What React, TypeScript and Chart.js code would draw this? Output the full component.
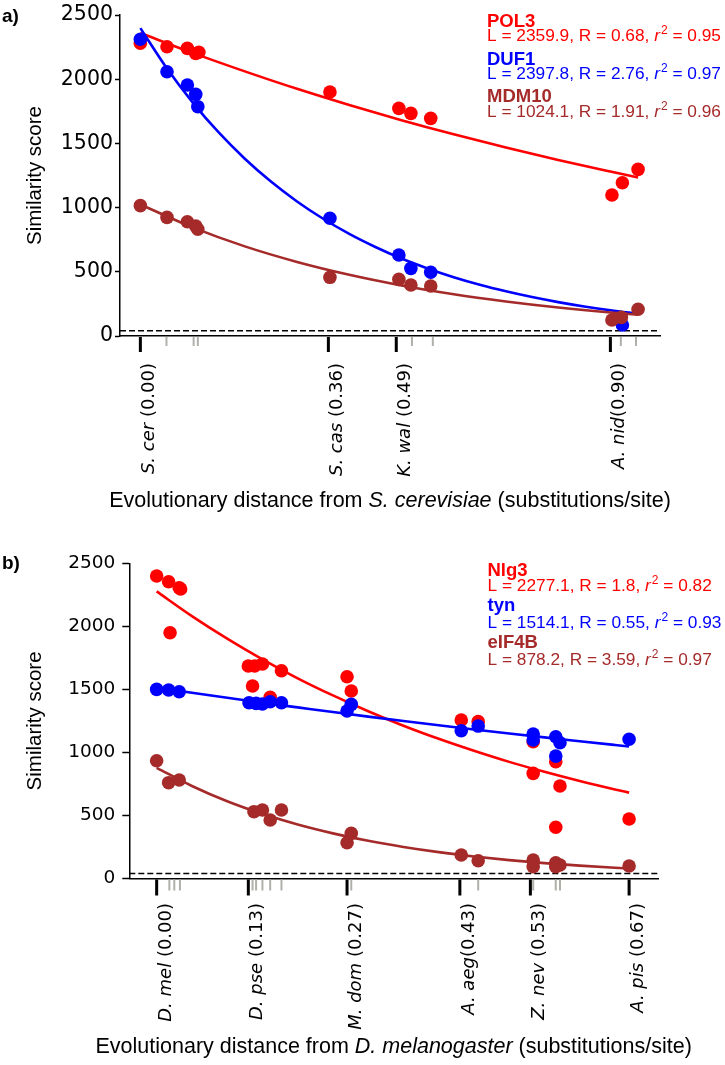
import React, { useEffect, useRef } from 'react';
import { Chart, registerables } from 'chart.js';

Chart.register(...registerables);

const RED = '#ff0000';
const BLUE = '#0000ff';
const BROWN = '#a52a2a';
const DASH_LEVEL = 40;

// ---------- Panel a (S. cerevisiae) ----------
const aGenes = ['POL3', 'DUF1', 'MDM10'];
const aFitL = [2359.9, 2397.8, 1024.1];
const aFitR = [0.68, 2.76, 1.91];
const aFitR2 = [0.95, 0.97, 0.96];
const aSpecies = ['S. cer', 'S. cas', 'K. wal', 'A. nid'];
const aSpeciesDist = [0.0, 0.36, 0.49, 0.9];
const aSpeciesSep = [' ', ' ', ' ', ''];
const aMinorTicks = [0.05, 0.102, 0.11, 0.52, 0.56, 0.92, 0.949];
const aXMin = -0.039;
const aXMax = 0.995;

const aPol3X = [0.0, 0.051, 0.09, 0.106, 0.112, 0.363, 0.495, 0.518, 0.556, 0.903, 0.923, 0.953];
const aPol3Y = [2280, 2253, 2240, 2200, 2210, 1900, 1773, 1734, 1695, 1098, 1194, 1298];
const aDuf1X = [0.0, 0.051, 0.09, 0.106, 0.11, 0.363, 0.495, 0.518, 0.556, 0.923];
const aDuf1Y = [2311, 2058, 1955, 1882, 1786, 917, 631, 527, 496, 86];
const aMdm10X = [0.0, 0.051, 0.09, 0.106, 0.11, 0.363, 0.495, 0.518, 0.556, 0.903, 0.921, 0.953];
const aMdm10Y = [1015, 924, 890, 857, 831, 457, 441, 397, 389, 125, 145, 208];

const aCurveX = [0, 0.1, 0.2, 0.3, 0.4, 0.5, 0.6, 0.7, 0.8, 0.9, 0.953];
const aPol3Fit = [2360, 2205, 2061, 1925, 1799, 1681, 1571, 1468, 1371, 1281, 1235];
const aMdm10Fit = [1024, 846, 698, 577, 477, 394, 325, 269, 222, 183, 166];
const aDuf1CurveX = [0, 0.05, 0.1, 0.15, 0.2, 0.25, 0.3, 0.35, 0.4, 0.45, 0.5, 0.55, 0.6, 0.65, 0.7, 0.75, 0.8, 0.85, 0.9, 0.953];
const aDuf1Fit = [2398, 2089, 1820, 1585, 1381, 1203, 1048, 913, 795, 693, 603, 526, 458, 399, 348, 303, 264, 230, 200, 173];

// ---------- Panel b (D. melanogaster) ----------
const bGenes = ['Nlg3', 'tyn', 'eIF4B'];
const bFitL = [2277.1, 1514.1, 878.2];
const bFitR = [1.8, 0.55, 3.59];
const bFitR2 = [0.82, 0.93, 0.97];
const bSpecies = ['D. mel', 'D. pse', 'M. dom', 'A. aeg', 'Z. nev', 'A. pis'];
const bSpeciesDist = [0.0, 0.13, 0.27, 0.43, 0.53, 0.67];
const bSpeciesSep = [' ', ' ', ' ', '', ' ', ' '];
const bMinorTicks = [0.018, 0.025, 0.033, 0.136, 0.141, 0.15, 0.161, 0.177, 0.276, 0.456, 0.534, 0.566, 0.572];
const bXMin = -0.0388;
const bXMax = 0.711;

const bNlg3X = [0, 0.017, 0.032, 0.034, 0.019, 0.13, 0.139, 0.15, 0.177, 0.136, 0.161, 0.27, 0.276, 0.432, 0.456, 0.534, 0.566, 0.534, 0.572, 0.566, 0.67];
const bNlg3Y = [2399, 2354, 2306, 2296, 1949, 1685, 1685, 1701, 1648, 1527, 1437, 1600, 1487, 1257, 1244, 1085, 926, 834, 734, 406, 472];
const bTynX = [0, 0.017, 0.032, 0.131, 0.141, 0.15, 0.161, 0.177, 0.27, 0.276, 0.432, 0.456, 0.534, 0.534, 0.566, 0.572, 0.566, 0.67];
const bTynY = [1500, 1495, 1481, 1394, 1389, 1384, 1402, 1394, 1328, 1381, 1172, 1209, 1146, 1098, 1124, 1077, 971, 1104];
const bEif4bX = [0, 0.017, 0.032, 0.138, 0.15, 0.161, 0.177, 0.27, 0.276, 0.432, 0.456, 0.534, 0.534, 0.566, 0.572, 0.566, 0.67];
const bEif4bY = [934, 760, 781, 530, 543, 464, 543, 284, 358, 186, 141, 147, 94, 125, 107, 94, 99];

const bCurveX = [0, 0.05, 0.1, 0.15, 0.2, 0.25, 0.3, 0.35, 0.4, 0.45, 0.5, 0.55, 0.6, 0.65, 0.67];
const bNlg3Fit = [2277, 2081, 1902, 1738, 1588, 1452, 1327, 1212, 1108, 1013, 925, 846, 773, 706, 681];
const bTynFit = [1514, 1473, 1433, 1394, 1357, 1320, 1284, 1249, 1215, 1182, 1150, 1119, 1089, 1059, 1047];
const bEif4bFit = [878, 734, 613, 513, 428, 358, 299, 250, 209, 175, 146, 122, 102, 85, 79];

const SANS = '"Liberation Sans", Arial, sans-serif';
const DEJAVU = '"DejaVu Sans", sans-serif';

type Panel = {
  top: number;
  height: number;
  padTop: number;
  padRight: number;
  yAxisWidth: number;
  xAxisHeight: number;
  xMin: number;
  xMax: number;
  yTickFont: number;
  yTickLen: number;
  yTickPad: number;
  letter: string;
  letterY: number;
  series: { xs: number[]; ys: number[]; cx: number[]; cy: number[]; color: string }[];
  genes: string[];
  fitL: number[];
  fitR: number[];
  fitR2: number[];
  legendX: number;
  legendNameY: number[];
  legendStatY: number[];
  species: string[];
  speciesDist: number[];
  speciesSep: string[];
  minorTicks: number[];
  majorLen: number;
  minorLen: number;
  labelGap: number;
  labelFont: number;
  titleGap: number;
  titleItalic: string;
  yTitleX: number;
};

const panelA: Panel = {
  top: 0,
  height: 530,
  padTop: 15,
  padRight: 65,
  yAxisWidth: 120,
  xAxisHeight: 194,
  xMin: aXMin,
  xMax: aXMax,
  yTickFont: 20.5,
  yTickLen: 5,
  yTickPad: 2,
  letter: 'a)',
  letterY: 22,
  series: [
    { xs: aPol3X, ys: aPol3Y, cx: aCurveX, cy: aPol3Fit, color: RED },
    { xs: aDuf1X, ys: aDuf1Y, cx: aDuf1CurveX, cy: aDuf1Fit, color: BLUE },
    { xs: aMdm10X, ys: aMdm10Y, cx: aCurveX, cy: aMdm10Fit, color: BROWN },
  ],
  genes: aGenes,
  fitL: aFitL,
  fitR: aFitR,
  fitR2: aFitR2,
  legendX: 487,
  legendNameY: [27, 65, 102],
  legendStatY: [41, 79, 117],
  species: aSpecies,
  speciesDist: aSpeciesDist,
  speciesSep: aSpeciesSep,
  minorTicks: aMinorTicks,
  majorLen: 15,
  minorLen: 9,
  labelGap: 27,
  labelFont: 18,
  titleGap: 171,
  titleItalic: 'S. cerevisiae',
  yTitleX: 41,
};

const panelB: Panel = {
  top: 530,
  height: 535,
  padTop: 33.3,
  padRight: 67,
  yAxisWidth: 129.3,
  xAxisHeight: 186.5,
  xMin: bXMin,
  xMax: bXMax,
  yTickFont: 18.5,
  yTickLen: 7,
  yTickPad: 7,
  letter: 'b)',
  letterY: 39,
  series: [
    { xs: bNlg3X, ys: bNlg3Y, cx: bCurveX, cy: bNlg3Fit, color: RED },
    { xs: bTynX, ys: bTynY, cx: bCurveX, cy: bTynFit, color: BLUE },
    { xs: bEif4bX, ys: bEif4bY, cx: bCurveX, cy: bEif4bFit, color: BROWN },
  ],
  genes: bGenes,
  fitL: bFitL,
  fitR: bFitR,
  fitR2: bFitR2,
  legendX: 487.5,
  legendNameY: [46, 81, 118],
  legendStatY: [61, 98, 134.5],
  species: bSpecies,
  speciesDist: bSpeciesDist,
  speciesSep: bSpeciesSep,
  minorTicks: bMinorTicks,
  majorLen: 16,
  minorLen: 11,
  labelGap: 24.5,
  labelFont: 18,
  titleGap: 174.5,
  titleItalic: 'D. melanogaster',
  yTitleX: 41,
};

const colorOf = (p: Panel, i: number) => p.series[i].color;

function decorPlugin(p: Panel) {
  return {
    id: 'decor',
    afterDraw(chart: any) {
      const { ctx, chartArea, scales } = chart;
      const xs = scales.x;
      const base = chartArea.bottom;
      ctx.save();
      // minor (gray) ticks
      ctx.strokeStyle = '#b0b0aa';
      ctx.lineWidth = 2;
      for (const d of p.minorTicks) {
        const px = xs.getPixelForValue(d);
        ctx.beginPath();
        ctx.moveTo(px, base + 1);
        ctx.lineTo(px, base + 1 + p.minorLen);
        ctx.stroke();
      }
      // major (black) ticks
      ctx.strokeStyle = '#000';
      ctx.lineWidth = 3;
      for (const d of p.speciesDist) {
        const px = xs.getPixelForValue(d);
        ctx.beginPath();
        ctx.moveTo(px, base + 1);
        ctx.lineTo(px, base + 1 + p.majorLen);
        ctx.stroke();
      }
      // rotated species labels
      ctx.fillStyle = '#000';
      ctx.textBaseline = 'alphabetic';
      ctx.textAlign = 'left';
      p.species.forEach((name, i) => {
        const d = p.speciesDist[i];
        const px = xs.getPixelForValue(d);
        const tail = `${p.speciesSep[i]}(${d.toFixed(2)})`;
        ctx.save();
        ctx.translate(px + 14, base + p.labelGap);
        ctx.rotate(-Math.PI / 2);
        ctx.font = `italic ${p.labelFont}px ${DEJAVU}`;
        const w1 = ctx.measureText(name).width;
        ctx.font = `${p.labelFont}px ${DEJAVU}`;
        const w2 = ctx.measureText(tail).width;
        ctx.font = `italic ${p.labelFont}px ${DEJAVU}`;
        ctx.fillText(name, -(w1 + w2), 0);
        ctx.font = `${p.labelFont}px ${DEJAVU}`;
        ctx.fillText(tail, -w2, 0);
        ctx.restore();
      });
      // x title
      const pre = 'Evolutionary distance from ';
      const post = ' (substitutions/site)';
      const fs = 21.5;
      ctx.font = `${fs}px ${SANS}`;
      const wPre = ctx.measureText(pre).width;
      const wPost = ctx.measureText(post).width;
      ctx.font = `italic ${fs}px ${SANS}`;
      const wIt = ctx.measureText(p.titleItalic).width;
      let tx = (chartArea.left + chartArea.right) / 2 - (wPre + wIt + wPost) / 2;
      const ty = base + p.titleGap;
      ctx.font = `${fs}px ${SANS}`;
      ctx.fillText(pre, tx, ty);
      tx += wPre;
      ctx.font = `italic ${fs}px ${SANS}`;
      ctx.fillText(p.titleItalic, tx, ty);
      tx += wIt;
      ctx.font = `${fs}px ${SANS}`;
      ctx.fillText(post, tx, ty);
      // y title
      ctx.save();
      ctx.translate(p.yTitleX, (chartArea.top + chartArea.bottom) / 2);
      ctx.rotate(-Math.PI / 2);
      ctx.textAlign = 'center';
      ctx.font = `20.5px ${SANS}`;
      ctx.fillText('Similarity score', 0, 0);
      ctx.restore();
      // panel letter
      ctx.textAlign = 'left';
      ctx.font = `bold 19px ${SANS}`;
      ctx.fillText(p.letter, 2, p.letterY);
      // legend
      p.genes.forEach((g, i) => {
        const col = colorOf(p, i);
        ctx.fillStyle = col;
        ctx.font = `bold 18.5px ${SANS}`;
        ctx.fillText(g, p.legendX, p.legendNameY[i]);
        let x = p.legendX;
        const y = p.legendStatY[i];
        const s1 = `L = ${p.fitL[i].toFixed(1)}, R = ${String(p.fitR[i])}, `;
        ctx.font = `17.3px ${SANS}`;
        ctx.fillText(s1, x, y);
        x += ctx.measureText(s1).width;
        ctx.font = `italic 17.3px ${SANS}`;
        ctx.fillText('r', x, y);
        x += ctx.measureText('r').width + 1;
        ctx.font = `12px ${SANS}`;
        ctx.fillText('2', x, y - 7);
        x += ctx.measureText('2').width;
        ctx.font = `17.3px ${SANS}`;
        ctx.fillText(` = ${String(p.fitR2[i])}`, x, y);
      });
      ctx.restore();
    },
  };
}

function buildConfig(p: Panel): any {
  const pts = (xs: number[], ys: number[]) => xs.map((x, i) => ({ x, y: ys[i] }));
  const datasets: any[] = [
    {
      data: [
        { x: p.xMin, y: DASH_LEVEL },
        { x: p.xMax, y: DASH_LEVEL },
      ],
      borderColor: '#000',
      borderWidth: 1.5,
      borderDash: [6, 3],
      pointRadius: 0,
      showLine: true,
      order: 10,
      clip: false,
    },
  ];
  p.series.forEach((s, i) => {
    datasets.push({
      data: pts(s.xs, s.ys),
      showLine: false,
      pointRadius: 6.8,
      pointBackgroundColor: s.color,
      pointBorderWidth: 0,
      borderColor: s.color,
      backgroundColor: s.color,
      order: 9 - 2 * i,
      clip: false,
    });
    datasets.push({
      data: pts(s.cx, s.cy),
      showLine: true,
      pointRadius: 0,
      borderColor: s.color,
      borderWidth: 2.6,
      cubicInterpolationMode: 'monotone',
      fill: false,
      order: 8 - 2 * i,
      clip: false,
    });
  });
  return {
    type: 'line',
    data: { datasets },
    options: {
      animation: false,
      responsive: false,
      devicePixelRatio: 1,
      events: [],
      layout: { padding: { left: 0, right: p.padRight, top: p.padTop, bottom: 0 } },
      plugins: { legend: { display: false }, tooltip: { enabled: false } },
      scales: {
        x: {
          type: 'linear',
          min: p.xMin,
          max: p.xMax,
          ticks: { display: false },
          grid: { display: false },
          border: { display: true, color: '#000', width: 1.5 },
          afterFit: (s: any) => {
            s.height = p.xAxisHeight;
          },
        },
        y: {
          type: 'linear',
          min: 0,
          max: 2500,
          ticks: {
            stepSize: 500,
            color: '#000',
            padding: p.yTickPad,
            font: { family: DEJAVU, size: p.yTickFont },
            callback: (v: any) => String(v),
          },
          grid: {
            display: true,
            drawOnChartArea: false,
            drawTicks: true,
            tickLength: p.yTickLen,
            tickColor: '#000',
            tickWidth: 1.5,
          },
          border: { display: true, color: '#000', width: 1.5 },
          afterFit: (s: any) => {
            s.width = p.yAxisWidth;
          },
        },
      },
    },
    plugins: [decorPlugin(p)],
  };
}

function PanelChart({ panel }: { panel: Panel }) {
  const ref = useRef<HTMLCanvasElement>(null);
  useEffect(() => {
    const chart = new Chart(ref.current as HTMLCanvasElement, buildConfig(panel));
    return () => chart.destroy();
  }, [panel]);
  return (
    <canvas
      ref={ref}
      width={725}
      height={panel.height}
      style={{ position: 'absolute', left: 0, top: panel.top, width: 725, height: panel.height }}
    />
  );
}

export default function App() {
  return (
    <div style={{ position: 'absolute', left: 0, top: 0, width: 725, height: 1065, background: '#fff' }}>
      <PanelChart panel={panelA} />
      <PanelChart panel={panelB} />
    </div>
  );
}
